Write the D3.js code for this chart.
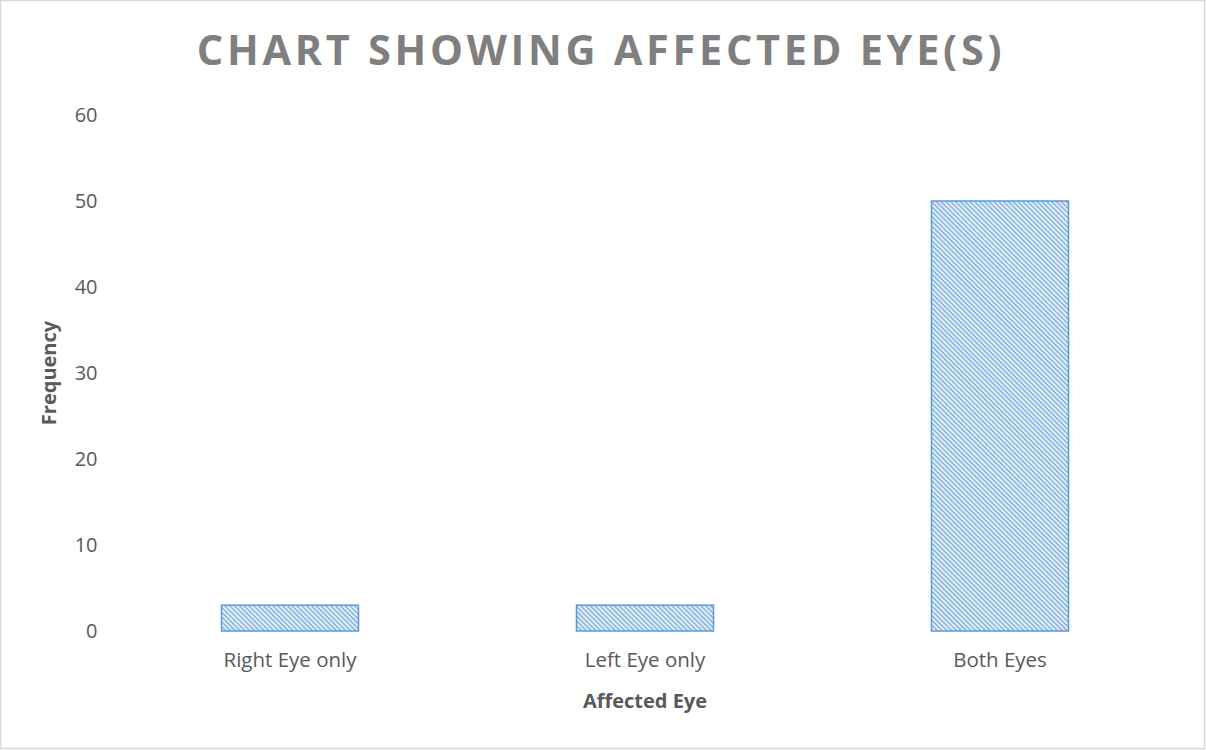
<!DOCTYPE html>
<html>
<head>
<meta charset="utf-8">
<script src="https://cdn.jsdelivr.net/npm/d3@7"></script>
<style>
  html, body { margin: 0; padding: 0; background: #fff; }
  svg { display: block; }
</style>
</head>
<body>
<script>
const categories = ["Right Eye only", "Left Eye only", "Both Eyes"];
const values = [3, 3, 50];
const yTicks = [0, 10, 20, 30, 40, 50, 60];
const titleText = "CHART SHOWING AFFECTED EYE(S)";
const xTitle = "Affected Eye";
const yTitle = "Frequency";

(function () {
const W = 1206, H = 750;
const svg = d3.select("body").append("svg").attr("width", W).attr("height", H);

svg.append("rect").attr("x", 0.5).attr("y", 0.5).attr("width", W - 2).attr("height", H - 2)
  .attr("fill", "#fff").attr("stroke", "#d9d9d9").attr("stroke-width", 1.5);

const defs = svg.append("defs");
const pat = defs.append("pattern").attr("id", "hatch").attr("patternUnits", "userSpaceOnUse")
  .attr("width", 3.4).attr("height", 3.4).attr("patternTransform", "rotate(45)");
pat.append("rect").attr("width", 3.4).attr("height", 3.4).attr("fill", "#e6f0fa");
pat.append("rect").attr("x", 0).attr("y", 0).attr("width", 3.4).attr("height", 1.4).attr("fill", "#7eaedd");

const mLeft = 112.5, mRight = 1177.5, mTop = 115, mBottom = 631;
const x = d3.scaleBand().domain(categories).range([mLeft, mRight]).paddingInner(0.614).paddingOuter(0.307);
const y = d3.scaleLinear().domain([0, 60]).range([mBottom, mTop]);

const font = "'Open Sans', sans-serif";

svg.append("g").selectAll("rect").data(categories).join("rect")
  .attr("x", d => x(d)).attr("width", x.bandwidth())
  .attr("y", (d, i) => y(values[i])).attr("height", (d, i) => y(0) - y(values[i]))
  .attr("fill", "url(#hatch)").attr("stroke", "#5b9bd5").attr("stroke-width", 1.5);

const yAxis = svg.append("g").attr("transform", `translate(${mLeft},0)`)
  .call(d3.axisLeft(y).tickValues(yTicks).tickSize(0).tickPadding(15));
yAxis.select(".domain").remove();
yAxis.selectAll("text").attr("font-family", font).attr("font-size", 20).attr("fill", "#595959");

const xAxis = svg.append("g").attr("transform", `translate(0,${mBottom})`)
  .call(d3.axisBottom(x).tickSize(0).tickPadding(21));
xAxis.select(".domain").remove();
xAxis.selectAll("text").attr("font-family", font).attr("font-size", 20.5).attr("fill", "#595959");

svg.append("text").attr("x", 601).attr("y", 65).attr("text-anchor", "middle")
  .attr("font-family", font).attr("font-weight", 700).attr("font-size", 41.5)
  .attr("letter-spacing", 3.7).attr("fill", "#7f7f7f").text(titleText);

svg.append("text").attr("x", (mLeft + mRight) / 2).attr("y", 708).attr("text-anchor", "middle")
  .attr("font-family", font).attr("font-weight", 700).attr("font-size", 20)
  .attr("fill", "#595959").text(xTitle);

svg.append("text").attr("transform", "translate(56,373) rotate(-90)").attr("text-anchor", "middle")
  .attr("font-family", font).attr("font-weight", 700).attr("font-size", 20)
  .attr("fill", "#595959").text(yTitle);
})();
</script>
</body>
</html>
